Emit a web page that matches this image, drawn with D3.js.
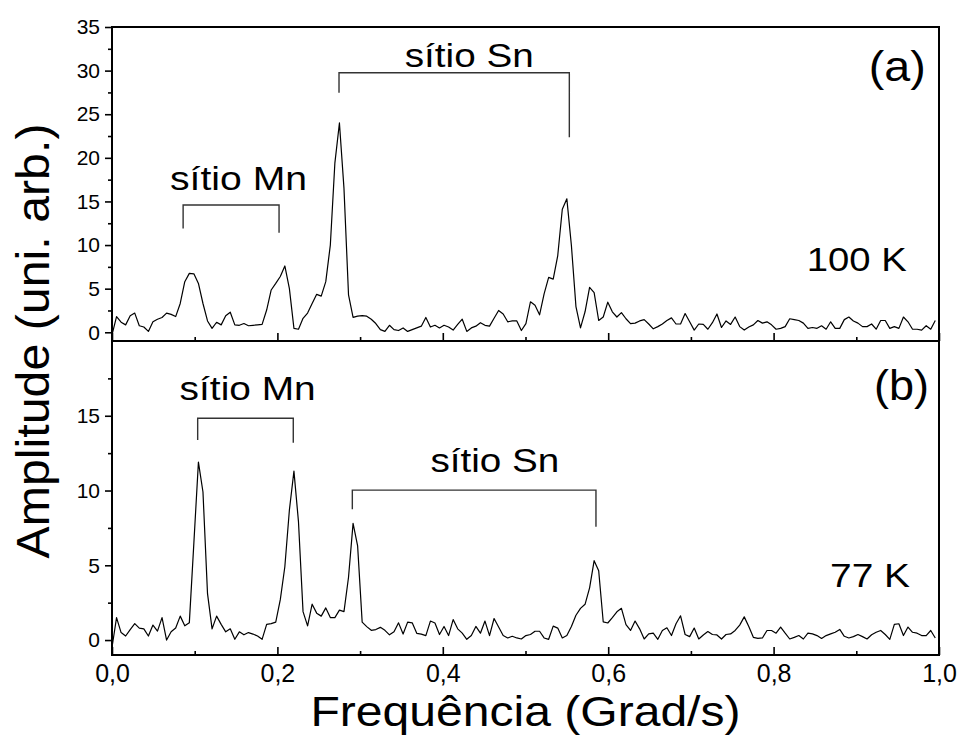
<!DOCTYPE html>
<html>
<head>
<meta charset="utf-8">
<script src="https://cdn.jsdelivr.net/npm/d3@7"></script>
<style>
  body { margin: 0; background: #fff; }
  svg { display: block; font-family: "Liberation Sans", Arial, sans-serif; }
</style>
</head>
<body>
<div class="chart"></div>
<script>
// FFT amplitude, one value per frequency bin (bin width freqStep, starting at 0)
const freqStep = 0.0055;

const amp100K = [
  -0.3, 1.8, 1.15, 0.85, 1.9, 2.2, 0.75, 0.6, 0.1, 1.2,
  1.5, 1.7, 2.2, 2.05, 1.8, 3.3, 5.8, 6.75, 6.7, 5.6,
  3.3, 1.3, 0.45, 1.15, 0.85, 1.9, 2.3, 0.85, 0.8, 1.0,
  0.75, 0.8, 0.85, 0.9, 2.55, 4.85, 5.6, 6.4, 7.6, 5.0,
  0.45, 0.35, 1.6, 2.2, 3.3, 4.35, 4.15, 5.8, 10.0, 19.4,
  24.0, 16.5, 4.3, 1.7, 1.85, 1.9, 1.85, 1.5, 1.0, 0.3,
  0.1, 0.8, 0.3, 0.2, 0.5, 0.1, 0.3, 0.5, 0.7, 1.7,
  0.6, 0.8, 0.5, 0.8, 0.6, 0.25, 0.9, 1.5, 0.1, 0.5,
  0.7, 1.1, 0.8, 0.7, 1.6, 2.5, 2.1, 1.2, 1.3, 1.3,
  0.2, 1.0, 3.5, 3.1, 2.0, 4.4, 6.3, 6.1, 8.8, 14.1,
  15.3, 9.95, 2.95, 0.5, 2.35, 5.15, 4.55, 1.35, 1.75, 3.45,
  2.35, 1.75, 2.25, 1.55, 1.0, 1.05, 1.3, 1.45, 0.95, 0.4,
  0.65, 0.95, 1.35, 1.65, 0.95, 0.95, 2.15, 1.2, 0.25, 0.95,
  0.9, 0.35, 1.1, 2.1, 0.55, 1.3, 0.9, 1.75, 0.65, 0.25,
  0.6, 0.85, 1.35, 1.05, 1.2, 0.85, 0.35, 0.45, 0.65, 1.55,
  1.45, 1.35, 1.05, 0.45, 0.55, 0.45, 0.75, 0.35, 1.2, 0.45,
  0.45, 1.45, 1.75, 1.3, 1.05, 0.65, 0.65, 0.95, 0.35, 1.35,
  1.35, 0.45, 0.65, 0.45, 1.75, 1.2, 0.35, 0.35, 0.25, 0.75,
  0.35, 1.35
];

const amp77K = [
  -0.5, 1.5, 0.5, 0.27, 0.7, 1.1, 0.8, 0.75, 0.27, 1.0,
  0.6, 1.5, 0.0, 0.55, 0.8, 1.6, 0.95, 1.15, 6.5, 11.9,
  9.9, 3.1, 0.75, 1.6, 1.05, 0.55, 0.75, 0.05, 0.55, 0.35,
  0.5, 0.4, 0.27, 0.05, 1.05, 1.1, 1.2, 2.7, 4.9, 8.7,
  11.3, 7.9, 1.9, 0.95, 2.4, 1.8, 1.6, 2.15, 1.5, 1.5,
  2.0, 1.9, 4.2, 7.8, 6.3, 1.2, 0.9, 0.65, 0.7, 0.85,
  0.65, 0.35, 0.55, 1.15, 0.4, 1.2, 1.15, 0.45, 0.4, 0.3,
  1.27, 1.14, 0.37, 0.91, 0.3, 1.37, 0.75, 0.46, 0.05, 0.3,
  0.91, 0.46, 1.27, 0.3, 1.44, 0.87, 0.3, 0.14, 0.25, 0.14,
  0.07, 0.3, 0.37, 0.59, 0.59, 0.14, 0.05, 0.93, 0.8, 0.14,
  0.3, 0.91, 1.66, 2.12, 2.39, 3.49, 5.31, 4.63, 1.21, 1.14,
  1.5, 1.89, 2.12, 1.03, 0.64, 1.27, 0.75, 0.07, 0.41, 0.46,
  0.05, 0.64, 0.82, 0.3, 1.09, 1.62, 0.37, 0.23, 0.8, 0.07,
  0.34, 0.57, 0.37, 0.34, 0.07, 0.37, 0.41, 0.64, 1.0, 1.55,
  0.9, 0.18, 0.11, 0.14, 0.64, 0.64, 0.46, 0.87, 0.46, 0.07,
  0.18, 0.3, 0.07, 0.46, 0.41, 0.3, 0.11, 0.3, 0.41, 0.52,
  0.71, 0.25, 0.14, 0.23, 0.37, 0.23, 0.07, 0.35, 0.52, 0.64,
  0.37, 0.05, 1.05, 1.09, 0.3, 0.87, 0.52, 0.46, 0.3, 0.3,
  0.64, 0.14
];

const freqTicks = [0, 0.2, 0.4, 0.6, 0.8, 1.0];
const freqMinorTicks = [0.1, 0.3, 0.5, 0.7, 0.9];
const ampTicksTop = [0, 5, 10, 15, 20, 25, 30, 35];
const ampMinorTop = [2.5, 7.5, 12.5, 17.5, 22.5, 27.5, 32.5];
const ampTicksBottom = [0, 5, 10, 15];
const ampMinorBottom = [2.5, 7.5, 12.5, 17.5];

const width = 959;
const height = 735;
const plotLeft = 112;
const plotRight = 939;
const plotTop = 27;
const plotMid = 341;
const plotBottom = 655;

const svg = d3
  .select(".chart")
  .append("svg")
  .attr("width", width)
  .attr("height", height);

const xScale = d3.scaleLinear().domain([0, 1]).range([plotLeft, plotRight]);
const yTop = d3.scaleLinear().domain([-1, 35]).range([plotMid, plotTop]);
const yBottom = d3.scaleLinear().domain([-1, 20]).range([plotBottom, plotMid]);

const commaFormat = (d) => d3.format(".1f")(d).replace(".", ",");

const styleAxis = (g, fontSize) => {
  g.select(".domain").remove();
  g.selectAll(".tick line").attr("stroke", "#000").attr("stroke-width", 1.6);
  g.selectAll(".tick text")
    .attr("fill", "#000")
    .attr("font-size", fontSize)
    .attr("font-family", "Liberation Sans, Arial, sans-serif");
};

// one stacked panel: y axis, inner x ticks, frame, spectrum
const drawPanel = (values, yScale, ticks, minor, showXLabels, panelTop, panelBottom) => {
  svg
    .append("g")
    .attr("transform", `translate(${plotLeft},0)`)
    .call(d3.axisLeft(yScale).tickValues(ticks).tickSize(7).tickPadding(5))
    .call((g) => styleAxis(g, 21));

  svg
    .append("g")
    .attr("transform", `translate(${plotLeft},0)`)
    .call(d3.axisLeft(yScale).tickValues(minor).tickSize(4).tickFormat(""))
    .call((g) => styleAxis(g, 21));

  const xAxis = d3
    .axisBottom(xScale)
    .tickValues(freqTicks)
    .tickSizeInner(-8)
    .tickSizeOuter(0)
    .tickPadding(9)
    .tickFormat(showXLabels ? commaFormat : "");

  svg
    .append("g")
    .attr("transform", `translate(0,${panelBottom})`)
    .call(xAxis)
    .call((g) => styleAxis(g, 25));

  svg
    .append("g")
    .attr("transform", `translate(0,${panelBottom})`)
    .call(
      d3.axisBottom(xScale).tickValues(freqMinorTicks).tickSizeInner(-4).tickSizeOuter(0).tickFormat("")
    )
    .call((g) => styleAxis(g, 25));

  svg
    .append("rect")
    .attr("x", plotLeft)
    .attr("y", panelTop)
    .attr("width", plotRight - plotLeft)
    .attr("height", panelBottom - panelTop)
    .attr("fill", "none")
    .attr("stroke", "#000")
    .attr("stroke-width", 2);

  const line = d3
    .line()
    .x((_d, i) => xScale(i * freqStep))
    .y((d) => yScale(d));

  svg
    .append("path")
    .datum(values)
    .attr("d", line)
    .attr("fill", "none")
    .attr("stroke", "#000")
    .attr("stroke-width", 1.2)
    .attr("stroke-linejoin", "round");
};

drawPanel(amp100K, yTop, ampTicksTop, ampMinorTop, false, plotTop, plotMid);
drawPanel(amp77K, yBottom, ampTicksBottom, ampMinorBottom, true, plotMid, plotBottom);

// site brackets, in data units of each panel
const brackets = [
  { scale: yTop, label: "sítio Mn", f0: 0.086, f1: 0.202, bar: 14.6, end0: 11.9, end1: 11.4, textF: 0.153, textY: 16.3, len: 137 },
  { scale: yTop, label: "sítio Sn", f0: 0.2745, f1: 0.553, bar: 29.76, end0: 27.47, end1: 22.35, textF: 0.432, textY: 30.45, len: 129 },
  { scale: yBottom, label: "sítio Mn", f0: 0.1036, f1: 0.2192, bar: 14.83, end0: 13.38, end1: 13.2, textF: 0.164, textY: 16.05, len: 136 },
  { scale: yBottom, label: "sítio Sn", f0: 0.2906, f1: 0.5852, bar: 10.03, end0: 8.74, end1: 7.58, textF: 0.463, textY: 11.26, len: 129 },
];

brackets.forEach((b) => {
  const y = b.scale;
  svg
    .append("path")
    .attr(
      "d",
      `M${xScale(b.f0)},${y(b.end0)}V${y(b.bar)}H${xScale(b.f1)}V${y(b.end1)}`
    )
    .attr("fill", "none")
    .attr("stroke", "#333")
    .attr("stroke-width", 1.4);

  svg
    .append("text")
    .attr("x", xScale(b.textF))
    .attr("y", y(b.textY))
    .attr("text-anchor", "middle")
    .attr("font-size", "33px")
    .attr("textLength", b.len)
    .attr("lengthAdjust", "spacingAndGlyphs")
    .attr("fill", "#000")
    .text(b.label);
});

// panel tags and temperatures
const tags = [
  { scale: yTop, text: "(a)", f: 0.984, v: 28.8, size: 42, len: 57 },
  { scale: yTop, text: "100 K", f: 0.961, v: 7.0, size: 34, len: 100 },
  { scale: yBottom, text: "(b)", f: 0.988, v: 16.05, size: 42, len: 55 },
  { scale: yBottom, text: "77 K", f: 0.965, v: 3.55, size: 34, len: 80 },
];

svg
  .selectAll(".tag")
  .data(tags)
  .join("text")
  .attr("class", "tag")
  .attr("x", (d) => xScale(d.f))
  .attr("y", (d) => d.scale(d.v))
  .attr("text-anchor", "end")
  .attr("font-size", (d) => `${d.size}px`)
  .attr("textLength", (d) => d.len)
  .attr("lengthAdjust", "spacingAndGlyphs")
  .attr("fill", "#000")
  .text((d) => d.text);

// axis titles
svg
  .append("text")
  .attr("x", (plotLeft + plotRight) / 2)
  .attr("y", 726)
  .attr("text-anchor", "middle")
  .attr("font-size", "42px")
  .attr("textLength", 430)
  .attr("lengthAdjust", "spacingAndGlyphs")
  .attr("fill", "#000")
  .text("Frequência (Grad/s)");

svg
  .append("text")
  .attr("transform", `translate(49,${(plotTop + plotBottom) / 2}) rotate(-90)`)
  .attr("text-anchor", "middle")
  .attr("font-size", "46px")
  .attr("textLength", 435)
  .attr("lengthAdjust", "spacingAndGlyphs")
  .attr("fill", "#000")
  .text("Amplitude (uni. arb.)");
</script>
</body>
</html>
